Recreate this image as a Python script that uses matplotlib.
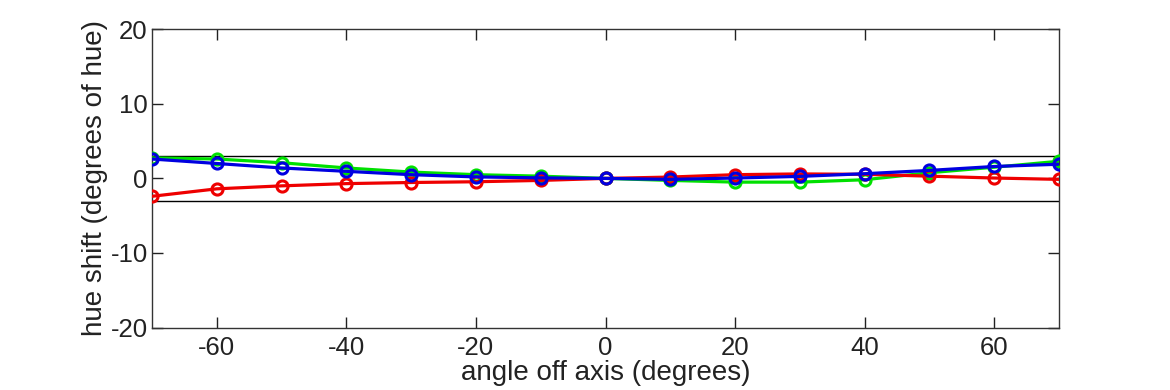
import matplotlib
matplotlib.use("Agg")
import matplotlib.pyplot as plt

angles = [-70, -60, -50, -40, -30, -20, -10, 0, 10, 20, 30, 40, 50, 60, 70]
red_shift = [-2.4, -1.4, -1.0, -0.7, -0.55, -0.45, -0.27, 0.0, 0.18, 0.5, 0.6, 0.55, 0.3, 0.05, -0.13]
green_shift = [2.75, 2.6, 2.1, 1.4, 0.85, 0.5, 0.3, 0.0, -0.27, -0.5, -0.5, -0.18, 0.76, 1.5, 2.3]
blue_shift = [2.6, 2.0, 1.4, 0.95, 0.5, 0.2, 0.07, 0.0, -0.13, 0.05, 0.27, 0.63, 1.07, 1.6, 1.9]
limit_band = [3, -3]
x_ticks = [-60, -40, -20, 0, 20, 40, 60]
y_ticks = [-20, -10, 0, 10, 20]

plt.rcParams['font.family'] = ['Liberation Sans', 'DejaVu Sans']
plt.rcParams['axes.unicode_minus'] = False

fig = plt.figure(figsize=(11.7, 3.9), dpi=100)
ax = fig.add_axes([152/1170, 1 - 327.5/390, (1059-152)/1170, (327.5-29.3)/390])

for yv in limit_band:
    ax.axhline(yv, color='black', lw=1.0, zorder=1)

for vals, col in [(green_shift, '#00e000'), (red_shift, '#ee0000'), (blue_shift, '#0000e0')]:
    ax.plot(angles, vals, color=col, lw=2.3, marker='o', ms=8, mfc='none',
            mec=col, mew=2.2, zorder=3)

ax.set_xlim(-70, 70)
ax.set_ylim(-20, 20)
ax.set_xticks(x_ticks)
ax.set_yticks(y_ticks)
ax.tick_params(direction='in', length=8, width=1, top=True, right=True,
               labelsize=18.5, colors='#222222', labelcolor='#222222')
ax.tick_params(axis='y', pad=3)
ax.tick_params(axis='x', pad=6)
for s in ax.spines.values():
    s.set_color('#333333')
    s.set_linewidth(1)
ax.set_xlabel('angle off axis (degrees)', fontsize=20, color='#222222', labelpad=0)
ax.set_ylabel('hue shift (degrees of hue)', fontsize=20, color='#222222', labelpad=2)

fig.savefig('out.png', dpi=100)
